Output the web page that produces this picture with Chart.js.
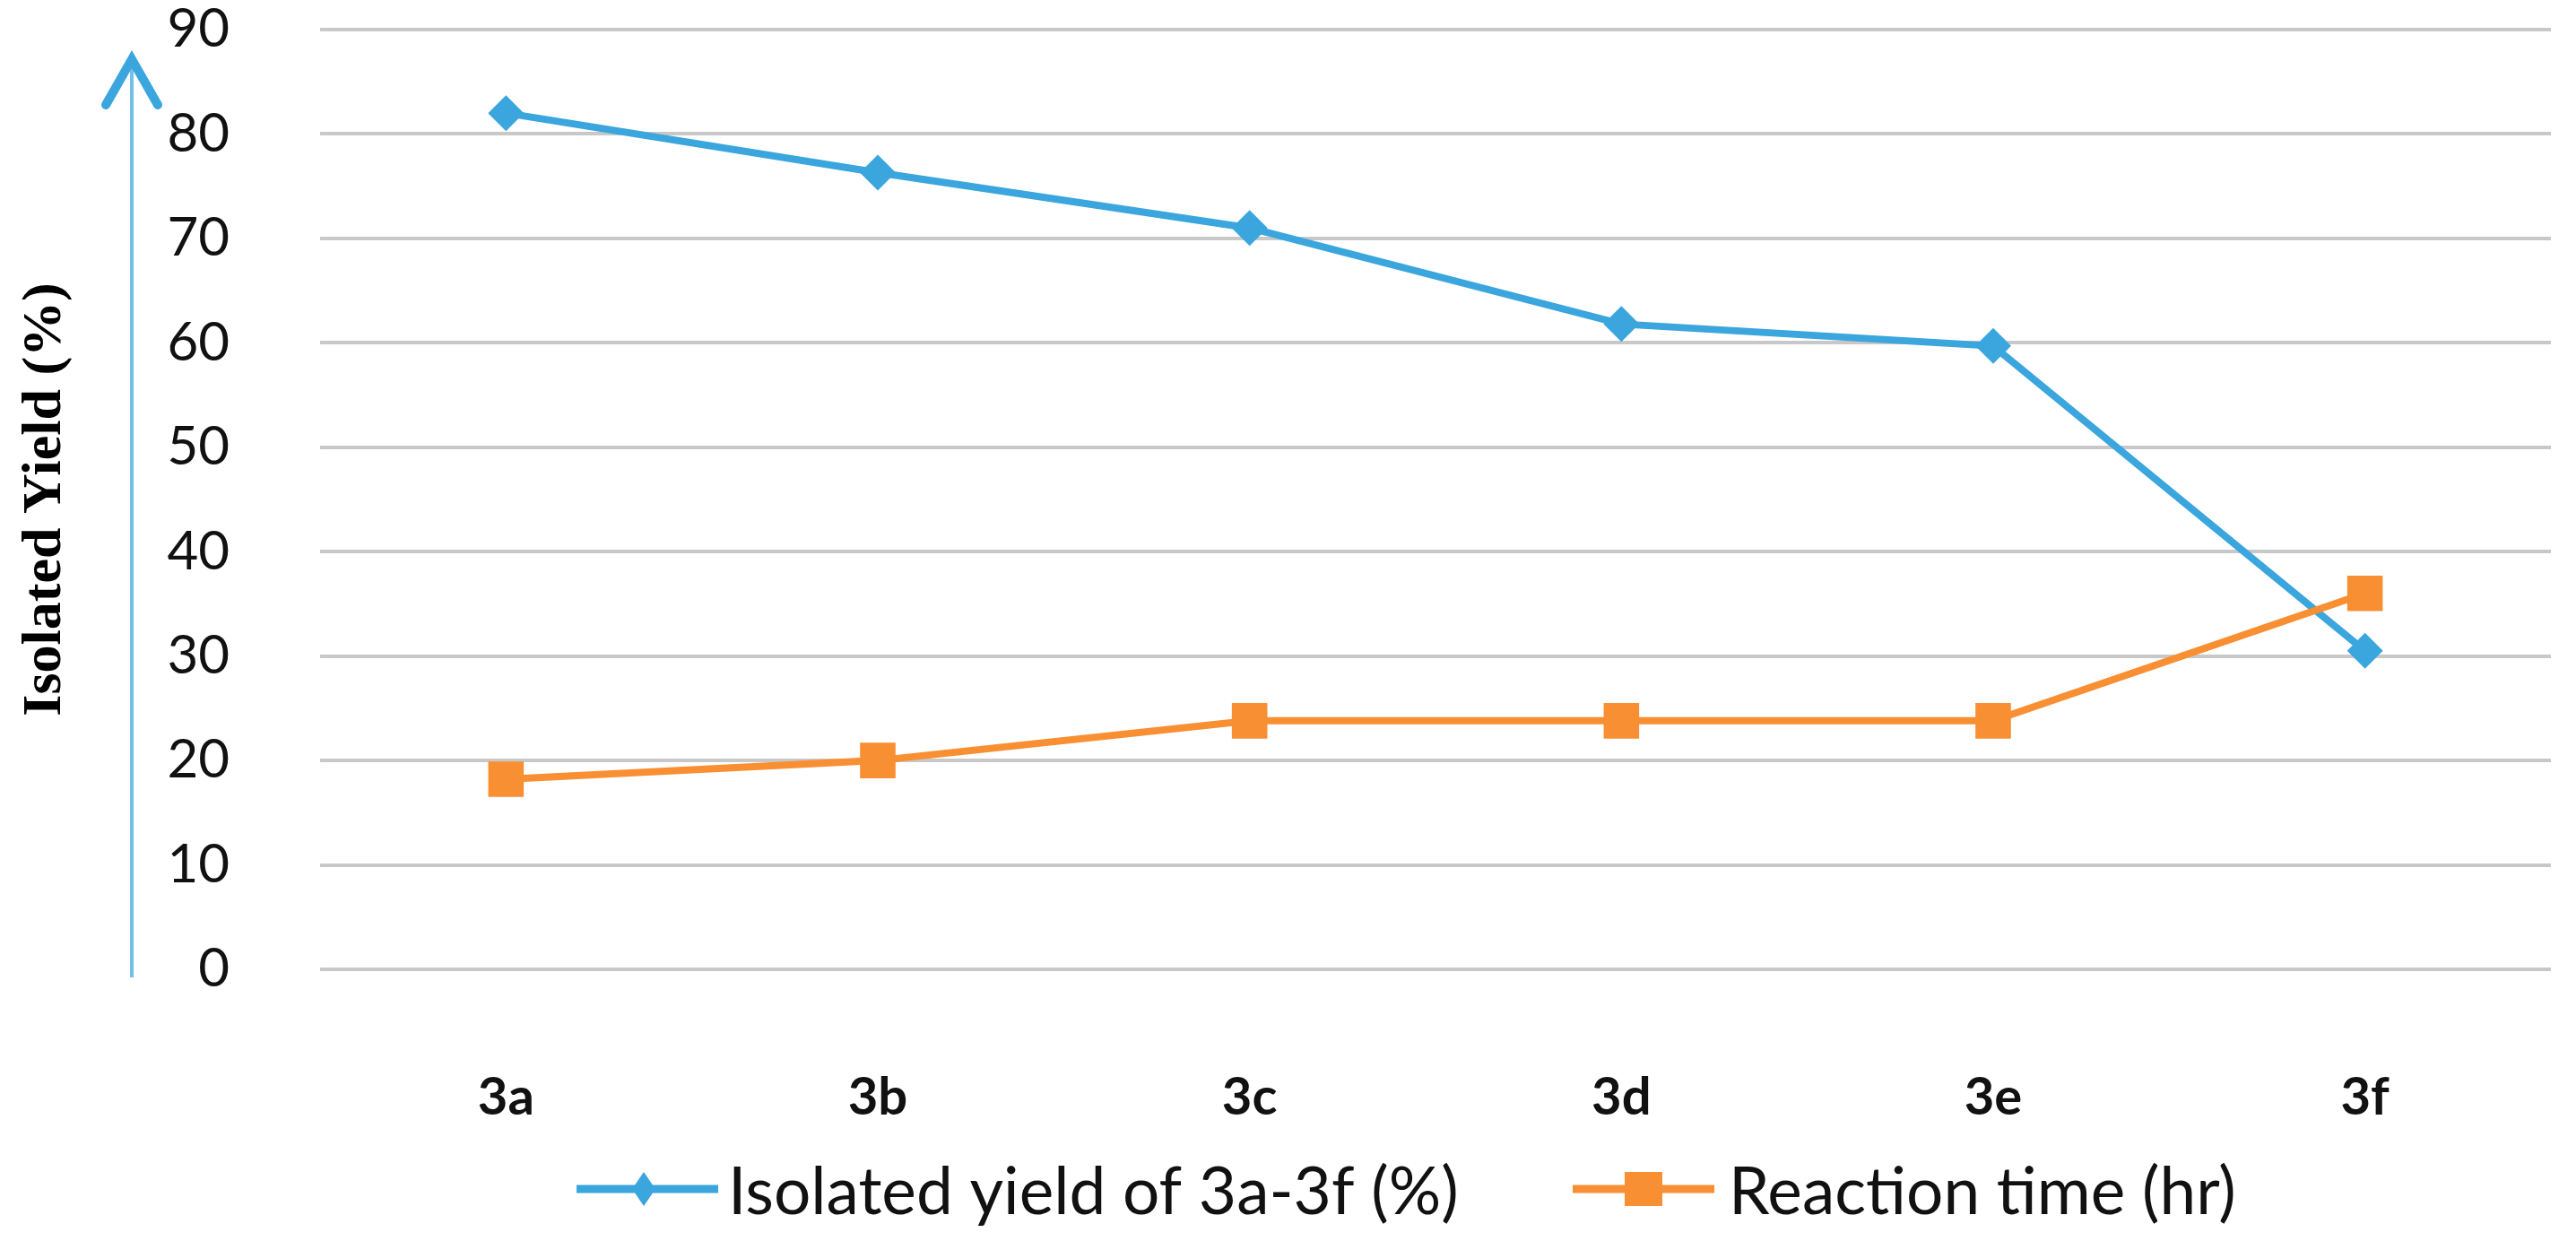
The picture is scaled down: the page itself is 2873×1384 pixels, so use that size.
<!DOCTYPE html>
<html><head><meta charset="utf-8">
<script src="https://cdn.jsdelivr.net/npm/chart.js@4.4.0/dist/chart.umd.min.js"></script>
<style>html,body{margin:0;padding:0;background:#fff;overflow:hidden}#wrap{width:2873px;height:1384px}</style>
</head><body><div id="wrap"><canvas id="c" width="2873" height="1384"></canvas></div>
<script>
const categories = ['3a', '3b', '3c', '3d', '3e', '3f'];
const yieldValues = [82, 76.3, 71, 61.8, 59.7, 30.5];
const timeValues = [18.2, 20, 23.8, 23.8, 23.8, 36];
const seriesNames = ['Isolated yield of 3a-3f (%)', 'Reaction time (hr)'];
const yAxisTitle = 'Isolated Yield (%)';
const yMin = 0, yMax = 90, yStep = 10;

const BLUE = '#3aa6dd';
const ORANGE = '#f98f33';

const arrowPlugin = {
  id: 'arrowAxis',
  afterDraw(chart) {
    const ctx = chart.ctx;
    ctx.save();
    ctx.strokeStyle = '#74c0ea';
    ctx.lineWidth = 4;
    ctx.beginPath();
    ctx.moveTo(147, 68);
    ctx.lineTo(147, 1090);
    ctx.stroke();
    ctx.strokeStyle = BLUE;
    ctx.lineWidth = 10;
    ctx.lineCap = 'round';
    ctx.lineJoin = 'miter';
    ctx.beginPath();
    ctx.moveTo(118, 117);
    ctx.lineTo(147, 66);
    ctx.lineTo(176, 117);
    ctx.stroke();
    ctx.restore();
  }
};

const legendPlugin = {
  id: 'excelLegend',
  afterDraw(chart) {
    const ctx = chart.ctx;
    const ds = chart.data.datasets;
    const items = [
      {x0: 643, x1: 801, mx: 718, tx: 812, shape: 'diamond'},
      {x0: 1754, x1: 1912, mx: 1833, tx: 1928, shape: 'square'}
    ];
    const y = 1326;
    ctx.save();
    items.forEach((it, i) => {
      const col = ds[i].borderColor;
      ctx.strokeStyle = col;
      ctx.fillStyle = col;
      ctx.lineWidth = 9;
      ctx.beginPath();
      ctx.moveTo(it.x0, y);
      ctx.lineTo(it.x1, y);
      ctx.stroke();
      ctx.beginPath();
      if (it.shape === 'diamond') {
        ctx.moveTo(it.mx, y - 19);
        ctx.lineTo(it.mx + 13, y);
        ctx.lineTo(it.mx, y + 19);
        ctx.lineTo(it.mx - 13, y);
        ctx.closePath();
      } else {
        ctx.rect(it.mx - 21, y - 19, 42, 38);
      }
      ctx.fill();
      ctx.fillStyle = '#111';
      ctx.font = '73px Lato';
      ctx.textBaseline = 'middle';
      ctx.textAlign = 'left';
      ctx.fillText(ds[i].label, it.tx, y + 4);
    });
    ctx.restore();
  }
};

new Chart(document.getElementById('c'), {
  type: 'line',
  data: {
    labels: categories,
    datasets: [
      {
        label: seriesNames[0],
        data: yieldValues,
        borderColor: BLUE,
        backgroundColor: BLUE,
        borderWidth: 8,
        pointStyle: 'rectRot',
        pointRadius: 20,
        pointBorderWidth: 0,
        pointHoverRadius: 20,
        tension: 0,
        order: 2
      },
      {
        label: seriesNames[1],
        data: timeValues,
        borderColor: ORANGE,
        backgroundColor: ORANGE,
        borderWidth: 8,
        pointStyle: 'rect',
        pointRadius: 28,
        pointBorderWidth: 0,
        pointHoverRadius: 28,
        tension: 0,
        order: 1
      }
    ]
  },
  options: {
    responsive: false,
    animation: false,
    devicePixelRatio: 1,
    layout: {padding: {left: 14, right: 15, top: 33, bottom: 0}},
    plugins: {
      legend: {display: false},
      tooltip: {enabled: false}
    },
    scales: {
      x: {
        type: 'category',
        offset: true,
        grid: {display: false, drawTicks: false},
        border: {display: false},
        ticks: {
          color: '#111',
          padding: 114,
          font: {family: 'Lato', size: 58, weight: 'bold', lineHeight: 1}
        },
        afterFit(scale) { scale.height = 1384 - 1081; }
      },
      y: {
        min: yMin,
        max: yMax,
        ticks: {
          stepSize: yStep,
          color: '#111',
          padding: 101,
          font: {family: 'Lato', size: 60, lineHeight: 1}
        },
        grid: {color: '#c8c8c8', lineWidth: 4, drawTicks: false},
        border: {display: false},
        title: {
          display: true,
          text: yAxisTitle,
          color: '#000',
          padding: {top: 0, bottom: 0},
          font: {family: 'Liberation Serif', size: 62, weight: 'bold'}
        },
        afterFit(scale) {
          scale.width = 357 - 14;
          scale.paddingTop = 20;
          scale.paddingBottom = 20;
        }
      }
    }
  },
  plugins: [arrowPlugin, legendPlugin]
});
</script>
</body></html>
